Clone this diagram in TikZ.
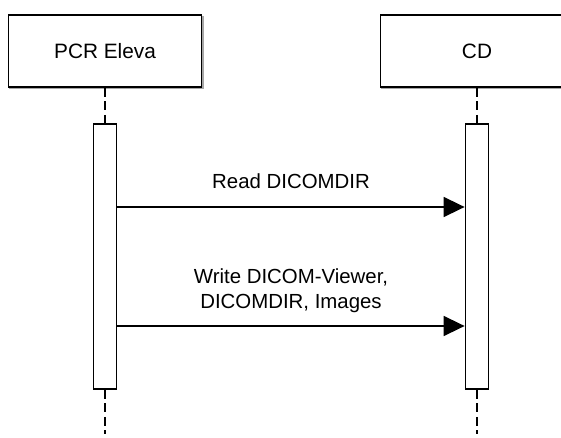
\documentclass[tikz,border=0pt]{standalone}
\usepackage{fontspec}
\setmainfont{Liberation Sans}
\usetikzlibrary{arrows.meta}
\begin{document}
\begin{tikzpicture}[x=1pt,y=-1pt,
  actor/.style={draw, line width=1.8pt, fill=white, minimum width=193pt, minimum height=72pt, inner sep=0pt,
    font=\fontsize{20.8}{25}\selectfont},
  shadowbox/.style={draw=black!35, line width=1.2pt, minimum width=193pt, minimum height=72pt, inner sep=0pt},
  actbar/.style={draw, line width=1.8pt, fill=white, minimum width=23pt, minimum height=265pt, inner sep=0pt},
  life/.style={line width=1.8pt, dash pattern=on 9pt off 4.5pt},
  msg/.style={line width=1.6pt, -{Triangle[length=21pt,width=20pt]}},
  lbl/.style={font=\fontsize{20.4}{25}\selectfont, align=center, inner sep=0pt, anchor=base}
]
\useasboundingbox (0,0) rectangle (561,438);
\clip (0,0) rectangle (561,438);
% shadows
\node[shadowbox] at (106.5,52.5) {};
\node[shadowbox] at (478.5,52.5) {};
% actor boxes
\node[actor] (boxL) at (105,51) {PCR Eleva};
\node[actor] (boxR) at (477,51) {CD};
% activation bars
\node[actbar] (barL) at (105,256.5) {};
\node[actbar] (barR) at (477,256.5) {};
% lifeline ends
\coordinate (endL) at (105,434);
\coordinate (endR) at (477,434);
\draw[life] (boxL) -- (barL);
\draw[life] (boxR) -- (barR);
\draw[life] (barL) -- (endL);
\draw[life] (barR) -- (endR);
% messages
\coordinate (m1) at (0,207);
\coordinate (m2) at (0,326);
\draw[msg] (barL.east |- m1) -- (barR.west |- m1);
\draw[msg] (barL.east |- m2) -- (barR.west |- m2);
% labels
\node[lbl] (t1) at (291,189) {Read DICOMDIR};
\node[lbl] (t2a) at (291,283) {Write DICOM-Viewer,};
\node[lbl] (t2b) at (291,308) {DICOMDIR, Images};
\end{tikzpicture}
\end{document}
